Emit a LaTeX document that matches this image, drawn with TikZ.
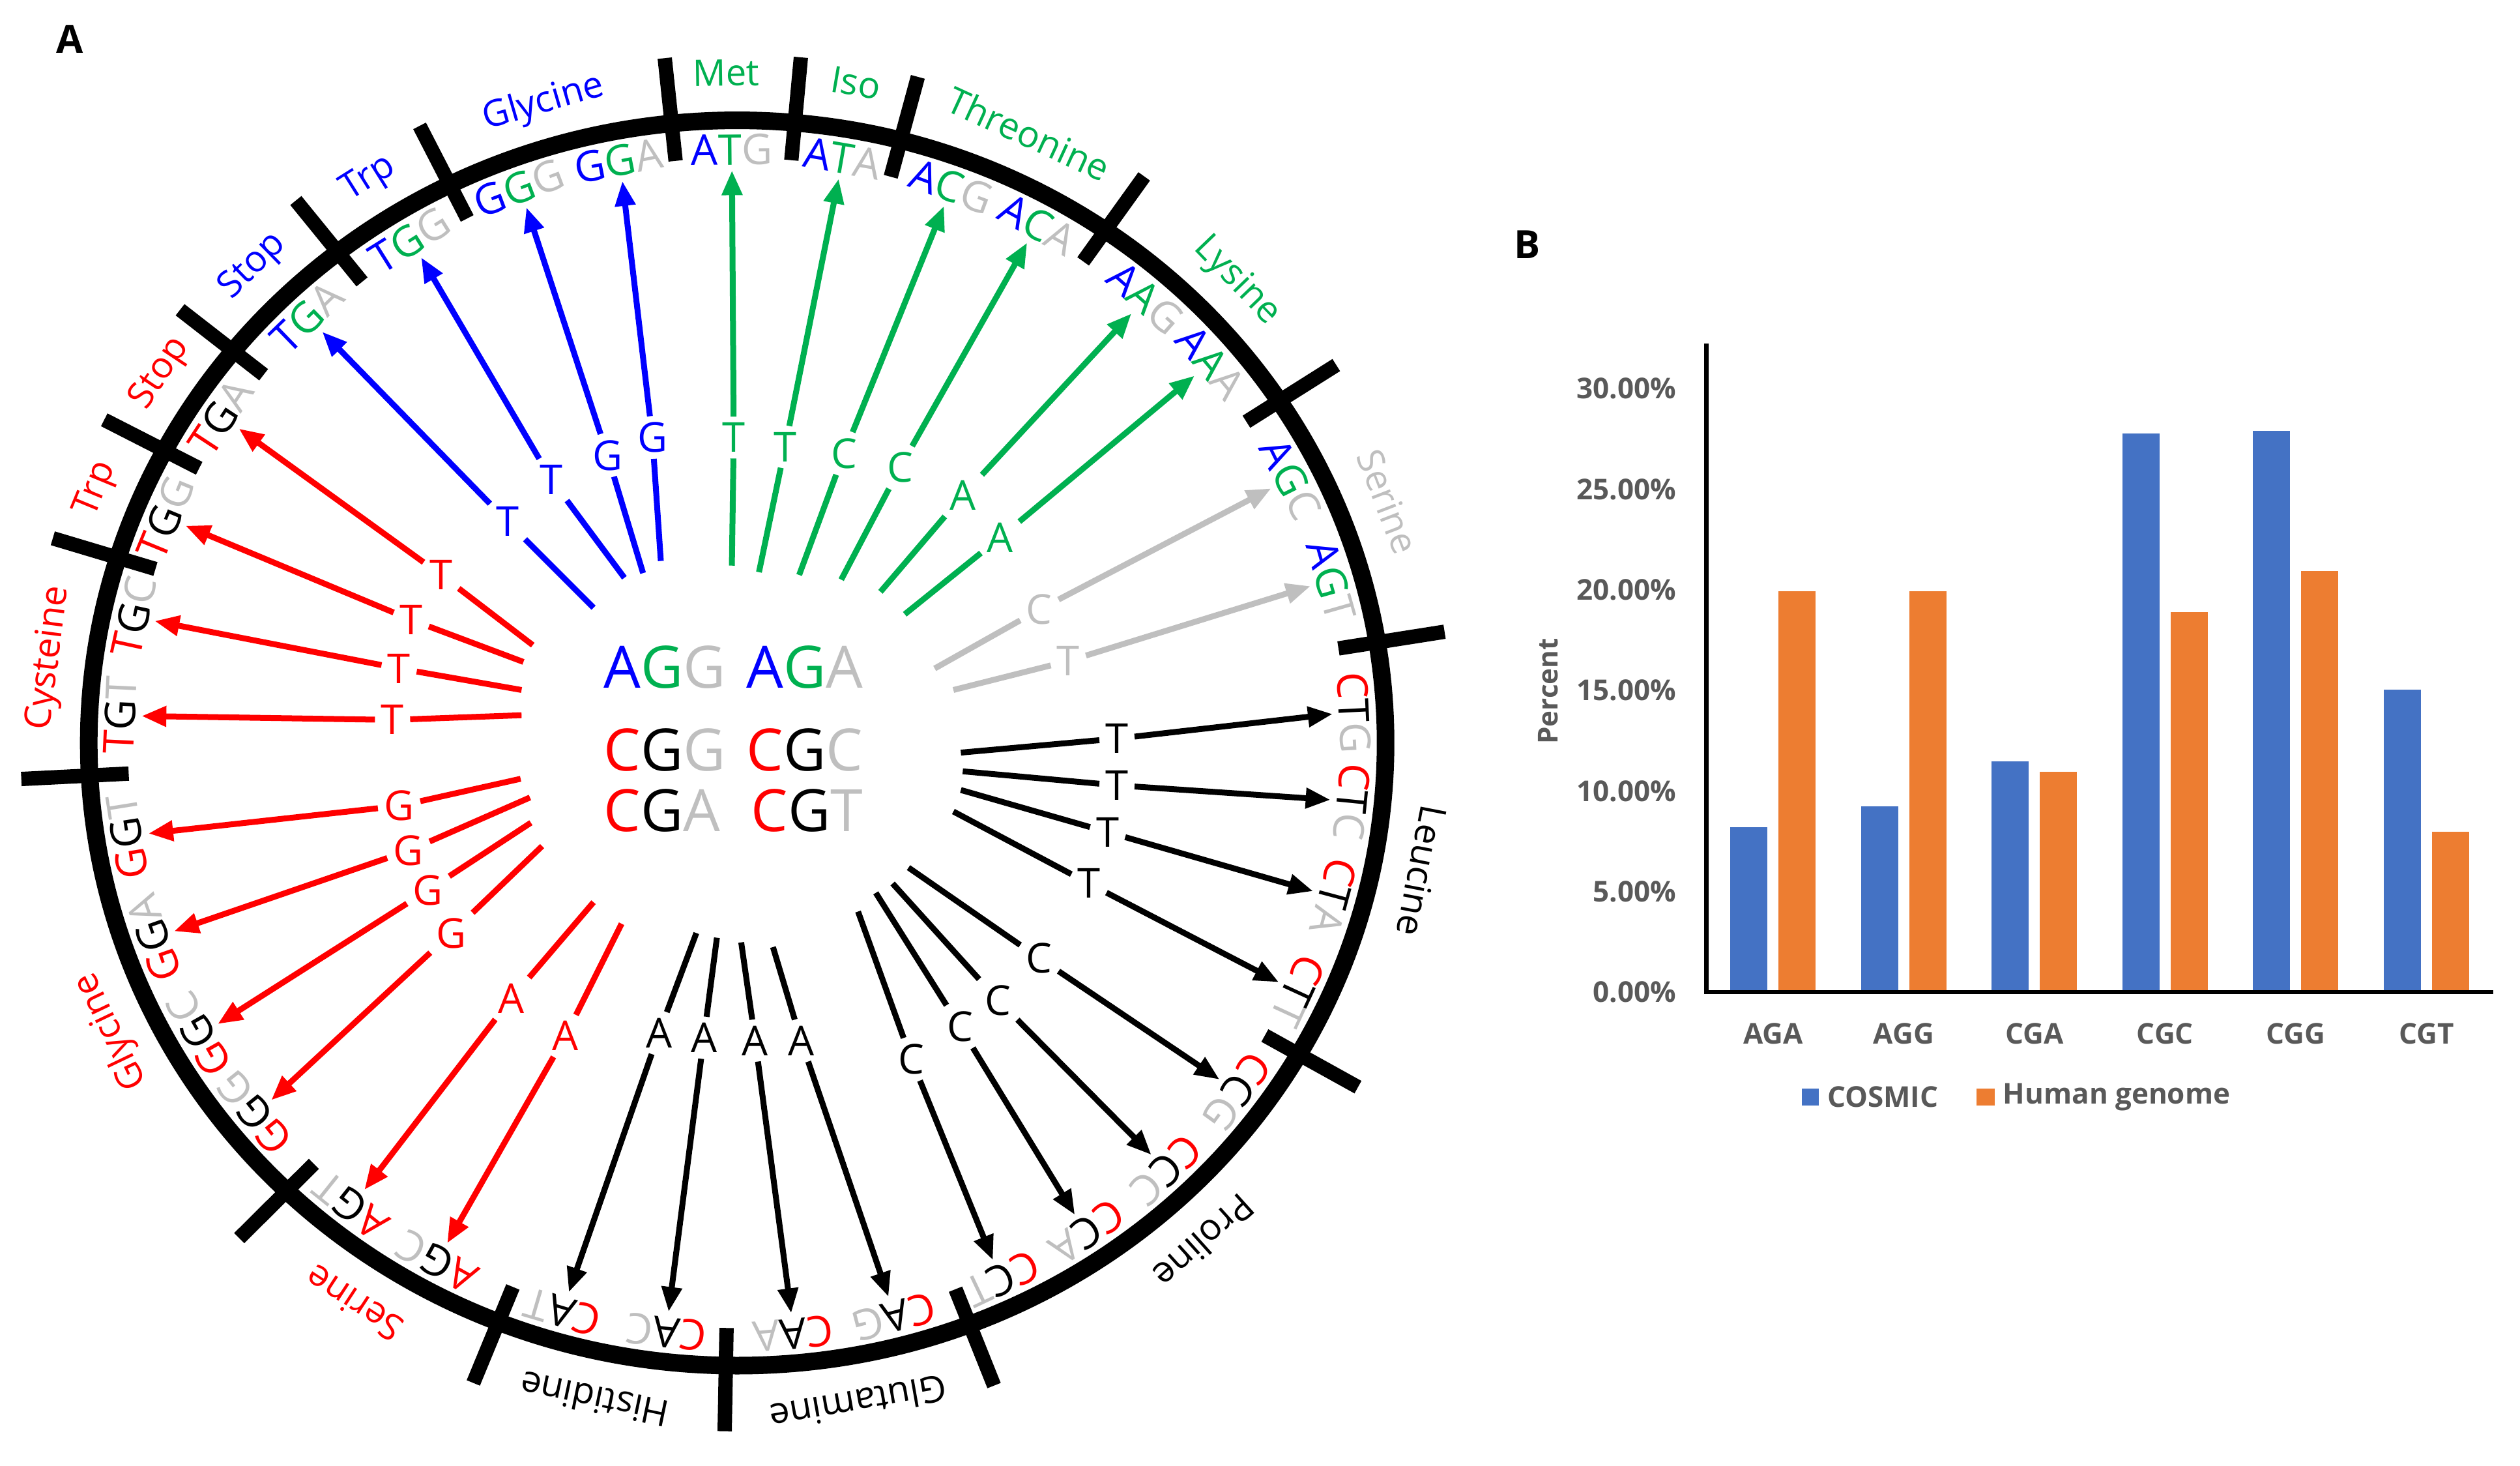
\documentclass[tikz,border=0pt]{standalone}
\usepackage{fontspec}
\setmainfont{Open Sans}
\usetikzlibrary{arrows.meta}
\definecolor{nb}{RGB}{0,0,255}
\definecolor{ngr}{RGB}{0,176,80}
\definecolor{ngy}{RGB}{191,191,191}
\definecolor{nr}{RGB}{255,0,0}
\definecolor{cosm}{HTML}{4472C4}
\definecolor{hum}{HTML}{ED7D31}
\definecolor{axt}{HTML}{595959}
\newcommand{\cdB}[3]{\textcolor{nb}{#1}\textcolor{ngr}{#2}\textcolor{ngy}{#3}}
\newcommand{\cdR}[3]{\textcolor{nr}{#1}\textcolor{black}{#2}\textcolor{ngy}{#3}}
\newcommand{\mutarr}[7]{%
  \coordinate (#2) at (#3);
  \node[mlab, text=#1] (#4) at (#5) {#6};
  \draw[seg, #1] (#2) -- (#4);
  \draw[arw, #1] (#4) -- (#7);}
\tikzset{
  ringline/.style={line width=0.27cm},
  tck/.style={line width=0.22cm},
  cod/.style={font=\fontsize{18.5}{20}\selectfont, inner sep=0pt},
  aal/.style={font=\fontsize{16}{18}\selectfont, inner sep=0pt, anchor=base},
  mlab/.style={font=\fontsize{18}{20}\selectfont, inner sep=2.5pt},
  seg/.style={line width=0.09cm},
  arw/.style={line width=0.09cm, -{Triangle[length=0.38cm,width=0.3cm]}},
  ctr/.style={font=\fontsize{25.5}{28}\selectfont, inner sep=0pt},
  chl/.style={font=\bfseries\fontsize{12.5}{14}\selectfont, text=axt, inner sep=0pt},
}
\begin{document}
\begin{tikzpicture}
\useasboundingbox (0,0) rectangle (38.67,22.48);
% ---------------- Panel A: ring, ticks, codons, labels
\begin{scope}[shift={(11.312cm,11.082cm)}, yscale=0.96]
  \draw[ringline] (0,0) circle (9.95);
  \foreach \a in {141,128,116.3,95.8,84.9,75.4,55.4,33.3,9.3,-30,-69,-91,-111.6,-134,183,162.7,152}
    \draw[tck] (\a:9.35) -- (\a:11.0);
  \foreach \a/\x/\y/\z in {134.1/T/G/A, 122.0/T/G/G, 110.7/G/G/G, 101.1/G/G/A, 90.5/A/T/G, 80.2/A/T/A, 69.7/A/C/G, 60.9/A/C/A, 48.6/A/A/G, 39.9/A/A/A, 26.4/A/G/C, 15.9/A/G/T}
  { \node[cod, rotate=\a-90] (b\x\y\z) at (\a:9.48) {\cdB\x\y\z};
    \coordinate (tb\x\y\z) at (\a:9.15); }
  \foreach \a/\x/\y/\z in {2.9/C/T/G, -5.7/C/T/C, -15/C/T/A, -24.7/C/T/T, -36/C/C/G, -46/C/C/C, -55.5/C/C/A, -64.6/C/C/T, -75.3/C/A/G, -84.8/C/A/A, -96.6/C/A/C, -106.4/C/A/T, -119.1/A/G/C, -128.7/A/G/T, -141.4/G/G/G, 209.4/G/G/C, 199.2/G/G/A, 189.1/G/G/T, 177.3/T/G/T, 167.7/T/G/C, 157.7/T/G/G, 146.7/T/G/A}
  { \node[cod, rotate=\a-90] (r\x\y\z) at (\a:9.48) {\cdR\x\y\z};
    \coordinate (tr\x\y\z) at (\a:9.15); }
  \foreach \a/\t/\c/\n in {122.1/Trp/nb/aTrpB, 134.3/Stop/nb/aStopB, 106.2/Glycine/nb/aGlyB, 90.9/Met/ngr/aMet, 80.2/Iso/ngr/aIso, 65.3/Threonine/ngr/aThr, 43.9/Lysine/ngr/aLys, 21.1/Serine/ngy/aSerY, -11/Leucine/black/aLeu, -48/Proline/black/aPro, -80/Glutamine/black/aGln, -101.8/Histidine/black/aHis, -123.3/Serine/nr/aSerR, 205.6/Glycine/nr/aGlyR, 172.7/Cysteine/nr/aCys, 157.6/Trp/nr/aTrpR, 146.3/Stop/nr/aStopR}
    \node[aal, text=\c, rotate=\a-90] (\n) at (\a:10.5) {\t};
\end{scope}
% ---------------- Panel A: centre text and mutation arrows
\begin{scope}[x=0.014337cm, y=-0.014337cm, shift={(0cm,22.48cm)}]
  \node[font=\bfseries\fontsize{17}{20}\selectfont, inner sep=0pt] (pA) at (75,42) {A};
  \node[ctr, anchor=west] (wAGG) at (645.6,713.5) {\cdB AGG};
  \node[ctr, anchor=east] (wAGA) at (923.8,713.5) {\cdB AGA};
  \node[ctr, anchor=west] (wCGG) at (645.6,801.8) {\cdR CGG};
  \node[ctr, anchor=east] (wCGC) at (923.8,801.8) {\cdR CGC};
  \node[ctr, anchor=west] (wCGA) at (645.6,867) {\cdR CGA};
  \node[ctr, anchor=east] (wCGT) at (923.8,867) {\cdR CGT};
  % blue
  \mutarr{nb}{sB1}{635,650}{mB1}{543,558}{T}{tbTGA}
  \mutarr{nb}{sB2}{668,618}{mB2}{590,513}{T}{tbTGG}
  \mutarr{nb}{sB3}{688,613}{mB3}{650,487}{G}{tbGGG}
  \mutarr{nb}{sB4}{707,600}{mB4}{698,468}{G}{tbGGA}
  % green
  \mutarr{ngr}{sG1}{783,605}{mG1}{785,468}{T}{tbATG}
  \mutarr{ngr}{sG2}{812,612}{mG2}{840,478}{T}{tbATA}
  \mutarr{ngr}{sG3}{855,615}{mG3}{903,485}{C}{tbACG}
  \mutarr{ngr}{sG4}{900,620}{mG4}{963,500}{C}{tbACA}
  \mutarr{ngr}{sG5}{942,633}{mG5}{1030,530}{A}{tbAAG}
  \mutarr{ngr}{sG6}{968,657}{mG6}{1070,575}{A}{tbAAA}
  % grey
  \mutarr{ngy}{sY1}{1000,715}{mY1}{1112,652}{C}{tbAGC}
  \mutarr{ngy}{sY2}{1020,738}{mY2}{1143,707}{T}{tbAGT}
  % black
  \mutarr{black}{sK1}{1028,805}{mK1}{1195,790}{T}{trCTG}
  \mutarr{black}{sK2}{1030,825}{mK2}{1195,840}{T}{trCTC}
  \mutarr{black}{sK3}{1028,845}{mK3}{1185,890}{T}{trCTA}
  \mutarr{black}{sK4}{1020,868}{mK4}{1165,945}{T}{trCTT}
  \mutarr{black}{sK5}{972,928}{mK5}{1112,1025}{C}{trCCG}
  \mutarr{black}{sK6}{955,945}{mK6}{1068,1070}{C}{trCCC}
  \mutarr{black}{sK7}{937,955}{mK7}{1027,1098}{C}{trCCA}
  \mutarr{black}{sK8}{918,975}{mK8}{975,1133}{C}{trCCT}
  \mutarr{black}{sK9}{745,998}{mK9}{705,1105}{A}{trCAT}
  \mutarr{black}{sK10}{767,1003}{mK10}{753,1110}{A}{trCAC}
  \mutarr{black}{sK11}{793,1008}{mK11}{808,1113}{A}{trCAA}
  \mutarr{black}{sK12}{827,1013}{mK12}{857,1113}{A}{trCAG}
  % red
  \mutarr{nr}{sR1}{635,965}{mR1}{547,1068}{A}{trAGT}
  \mutarr{nr}{sR2}{665,988}{mR2}{605,1108}{A}{trAGC}
  \mutarr{nr}{sR3}{557,833}{mR3}{427,862}{G}{trGGT}
  \mutarr{nr}{sR4}{567,853}{mR4}{437,910}{G}{trGGA}
  \mutarr{nr}{sR5}{568,880}{mR5}{458,952}{G}{trGGC}
  \mutarr{nr}{sR6}{580,905}{mR6}{483,998}{G}{trGGG}
  \mutarr{nr}{sR7}{570,690}{mR7}{472,615}{T}{trTGA}
  \mutarr{nr}{sR8}{560,708}{mR8}{440,663}{T}{trTGG}
  \mutarr{nr}{sR9}{558,738}{mR9}{427,715}{T}{trTGC}
  \mutarr{nr}{sR10}{558,765}{mR10}{420,770}{T}{trTGT}
\end{scope}
% ---------------- Panel B: bar chart
\begin{scope}[x=0.01cm, y=-0.01cm, shift={(0cm,22.48cm)}]
  \node[font=\bfseries\fontsize{17}{20}\selectfont, inner sep=0pt] (pB) at (2345,375) {B};
  \foreach \i/\b/\o/\c in {0/8.21/19.93/AGA, 1/9.23/19.93/AGG, 2/11.47/10.94/CGA, 3/27.77/18.90/CGC, 4/27.89/20.95/CGG, 5/15.03/7.99/CGT}
  {
    \fill[cosm] ({2657+200.6*\i},1523) rectangle ({2714+200.6*\i},{1523-30.88*\b});
    \fill[hum] ({2731+200.6*\i},1523) rectangle ({2788+200.6*\i},{1523-30.88*\o});
    \node[chl] (cat\c) at ({2722.5+200.6*\i},1587) {\c};
  }
  \draw[line width=0.065cm] (2620,527.8) -- (2620,1523) -- (3828,1523);
  \foreach \v/\n in {0/0.00, 5/5.00, 10/10.00, 15/15.00, 20/20.00, 25/25.00, 30/30.00}
    \node[chl, anchor=east] (yt\v) at (2574,{1523-30.88*\v}) {\n\%};
  \node[chl, font=\bfseries\fontsize{12}{14}\selectfont, rotate=90] (ylab) at (2377,1061) {Percent};
  \fill[cosm] (2767,1671) rectangle (2793,1697);
  \node[chl, anchor=west] (lgC) at (2805,1684) {COSMIC};
  \fill[hum] (3035,1671) rectangle (3063,1697);
  \node[chl, anchor=west] (lgH) at (3075,1684) {Human genome};
\end{scope}
\end{tikzpicture}
\end{document}
